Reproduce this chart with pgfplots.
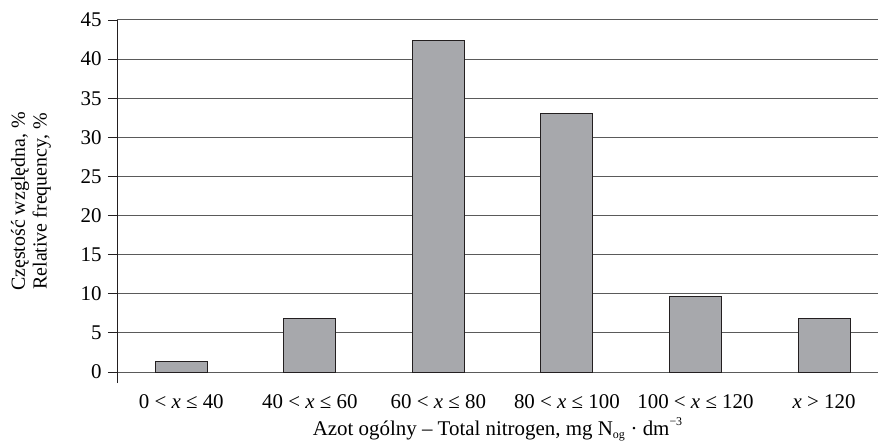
\documentclass[border=0pt]{standalone}
\usepackage{fontspec}
\setmainfont{Liberation Serif}
\usepackage{pgfplots}
\pgfplotsset{compat=1.18}
\definecolor{barfill}{HTML}{A7A8AC}
\definecolor{bardraw}{HTML}{231F20}
\definecolor{gridc}{HTML}{5A5A5A}
\begin{document}
\begin{tikzpicture}
\begin{axis}[
  scale only axis,
  width=761bp, height=363bp,
  xmin=-0.5, xmax=5.42,
  ymin=-1.4, ymax=45,
  axis x line*=bottom,
  x axis line style={draw=none},
  axis y line=left,
  y axis line style={-, color=bardraw, line width=0.9pt},
  ytick={0,5,...,45},
  tick align=outside,
  major tick length=9bp,
  y tick style={color=bardraw, line width=0.9pt},
  x tick style={draw=none},
  ymajorgrids,
  grid style={color=gridc, line width=1pt},
  xtick=data,
  xticklabels={0 < \textit{x} ≤ 40, 40 < \textit{x} ≤ 60, 60 < \textit{x} ≤ 80, 80 < \textit{x} ≤ 100, 100 < \textit{x} ≤ 120, \textit{x} > 120},
  xticklabel style={font=\fontsize{21}{24}\selectfont, anchor=base, yshift=-16bp},
  /pgf/number format/assume math mode=true,
  yticklabel style={font=\fontsize{21}{24}\selectfont, xshift=-3bp},
  ylabel={Częstość względna, \%\\Relative frequency, \%},
  every axis y label/.style={at={(axis description cs:-0.113,0.5)}, rotate=90, anchor=center, align=center, font=\fontsize{20}{22}\selectfont},
  xlabel={Azot ogólny – Total nitrogen, mg N\textsubscript{\fontsize{12}{12}\selectfont og} · dm\raisebox{10bp}{\fontsize{12}{12}\selectfont −3}},
  every axis x label/.style={at={(axis description cs:0.5,0)}, anchor=base, yshift=-52bp, font=\fontsize{21}{24}\selectfont},
  ybar, bar width=52bp,
  clip=false,
]
\addplot[fill=barfill, draw=bardraw, line width=0.9pt] coordinates {
(0,1.4) (1,6.9) (2,42.4) (3,33.0) (4,9.6) (5,6.9)};
\end{axis}
\pgfresetboundingbox
\path[use as bounding box] (-117bp,-59bp) rectangle (762bp,383bp);
\end{tikzpicture}
\end{document}
